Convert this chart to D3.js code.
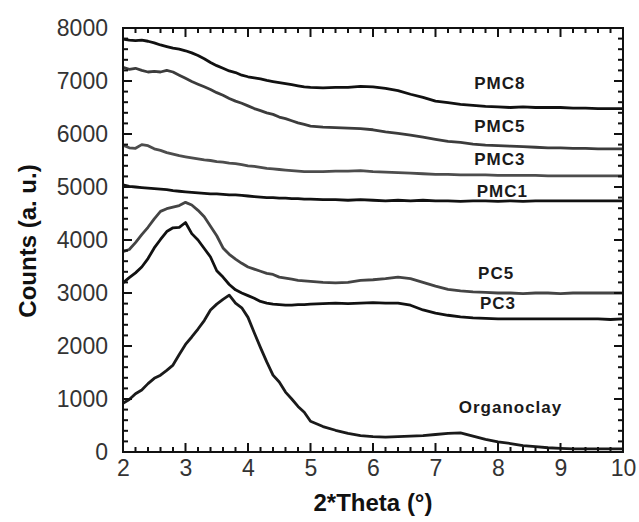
<!DOCTYPE html>
<html>
<head>
<meta charset="utf-8">
<script src="https://cdn.jsdelivr.net/npm/d3@7"></script>
<style>
  body { margin: 0; background: #fff; }
  svg { display: block; font-family: "Liberation Sans", Arial, sans-serif; }
</style>
</head>
<body>
<div id="chart"></div>
<script>
// 2-theta sampling (fine steps where the peaks are)
var theta = [2.0, 2.1, 2.2, 2.3, 2.4, 2.5, 2.6, 2.7, 2.8, 2.9, 3.0, 3.1, 3.2, 3.3, 3.4, 3.5, 3.6, 3.7, 3.8, 3.9,
             4.0, 4.1, 4.2, 4.3, 4.4, 4.5, 4.6, 4.7, 4.8, 4.9, 5.0,
             5.2, 5.4, 5.6, 5.8, 6.0, 6.2, 6.4, 6.6, 6.8, 7.0, 7.2, 7.4, 7.6, 7.8, 8.0,
             8.2, 8.4, 8.6, 8.8, 9.0, 9.2, 9.4, 9.6, 9.8, 10.0];

var pmc8 = [7790, 7770, 7760, 7770, 7750, 7720, 7680, 7650, 7620, 7600, 7570, 7530, 7480, 7420, 7350, 7290, 7240, 7190, 7160, 7110,
            7080, 7060, 7040, 7010, 6990, 6970, 6950, 6930, 6910, 6890, 6880,
            6870, 6880, 6880, 6900, 6890, 6860, 6820, 6750, 6690, 6620, 6590, 6560, 6540, 6520, 6510,
            6500, 6510, 6500, 6500, 6500, 6490, 6490, 6480, 6480, 6480];
var pmc5 = [7260, 7220, 7240, 7200, 7170, 7180, 7170, 7200, 7170, 7110, 7050, 6990, 6940, 6890, 6840, 6780, 6730, 6670, 6620, 6580,
            6530, 6480, 6440, 6400, 6370, 6320, 6290, 6250, 6210, 6180, 6150,
            6130, 6120, 6110, 6100, 6080, 6040, 6010, 5980, 5940, 5900, 5860, 5840, 5810, 5790, 5780,
            5770, 5760, 5750, 5740, 5740, 5730, 5730, 5720, 5720, 5720];
var pmc3 = [5790, 5740, 5730, 5800, 5780, 5720, 5690, 5650, 5620, 5590, 5570, 5550, 5530, 5510, 5500, 5480, 5470, 5450, 5440, 5420,
            5400, 5390, 5370, 5350, 5340, 5330, 5320, 5310, 5300, 5290, 5290,
            5290, 5300, 5300, 5310, 5290, 5280, 5270, 5260, 5250, 5240, 5240, 5230, 5230, 5230, 5220,
            5220, 5220, 5220, 5210, 5210, 5210, 5210, 5210, 5210, 5210];
var pmc1 = [5040, 5010, 5000, 4990, 4980, 4970, 4960, 4950, 4930, 4920, 4910, 4900, 4890, 4880, 4870, 4870, 4860, 4850, 4850, 4840,
            4830, 4820, 4810, 4800, 4800, 4790, 4790, 4780, 4780, 4770, 4770,
            4760, 4760, 4750, 4760, 4750, 4740, 4750, 4740, 4750, 4740, 4740, 4730, 4740, 4740, 4730,
            4740, 4730, 4740, 4740, 4740, 4740, 4740, 4740, 4740, 4740];
var pc5 = [3780, 3820, 3950, 4100, 4240, 4400, 4540, 4590, 4620, 4650, 4710, 4660, 4560, 4440, 4260, 4080, 3850, 3730, 3640, 3560,
           3490, 3450, 3410, 3370, 3350, 3300, 3280, 3260, 3240, 3230, 3220,
           3200, 3190, 3200, 3240, 3250, 3270, 3300, 3270, 3200, 3130, 3070, 3040, 3020, 3010, 3000,
           3000, 2990, 3000, 3000, 2990, 3000, 3000, 3000, 3000, 3000];
var pc3 = [3190, 3290, 3380, 3490, 3650, 3850, 4010, 4160, 4230, 4240, 4330, 4120, 4000, 3840, 3680, 3420, 3300, 3160, 3060, 3000,
           2950, 2900, 2840, 2810, 2790, 2780, 2770, 2770, 2780, 2780, 2790,
           2800, 2810, 2800, 2810, 2820, 2810, 2810, 2770, 2680, 2620, 2580, 2550, 2530, 2520, 2510,
           2510, 2510, 2510, 2510, 2510, 2510, 2510, 2510, 2500, 2510];
var organoclay = [920, 990, 1100, 1170, 1290, 1390, 1450, 1540, 1640, 1840, 2030, 2170, 2320, 2480, 2680, 2790, 2880, 2960, 2810, 2720,
                  2540, 2250, 1970, 1700, 1450, 1320, 1130, 1000, 860, 750, 580,
                  480, 410, 350, 310, 290, 280, 290, 300, 310, 330, 350, 360, 300, 240, 190,
                  160, 120, 100, 80, 70, 60, 60, 60, 60, 60];

var seriesNames = ["PMC8", "PMC5", "PMC3", "PMC1", "PC5", "PC3", "Organoclay"];
var seriesValues = [pmc8, pmc5, pmc3, pmc1, pc5, pc3, organoclay];
var xTicks = [2, 3, 4, 5, 6, 7, 8, 9, 10];
var yTicks = [0, 1000, 2000, 3000, 4000, 5000, 6000, 7000, 8000];

// look
var lineColors = ["#111", "#3c3c3c", "#4d4d4d", "#111", "#444", "#111", "#1a1a1a"];
// where each label sits, in data units (centre x, baseline y)
var labelAt = [[8.03, 6850], [8.03, 6040], [8.03, 5415], [8.07, 4810], [7.97, 3265], [8.0, 2700], [8.2, 735]];

var w = 639, h = 522;
var m = {top: 28, right: 16, bottom: 70, left: 123};
var bottom = h - m.bottom, right = w - m.right;

var svg = d3.select("#chart").append("svg")
    .attr("width", w)
    .attr("height", h);

var x = d3.scaleLinear().domain([2, 10]).range([m.left, right]);
var y = d3.scaleLinear().domain([0, 8000]).range([bottom, m.top]);

var line = d3.line()
    .x(function(d) { return x(d[0]); })
    .y(function(d) { return y(d[1]); });

// curves
svg.selectAll(".curve")
    .data(seriesValues)
    .enter()
    .append("path")
    .attr("class", "curve")
    .attr("fill", "none")
    .attr("stroke", function(d, i) { return lineColors[i]; })
    .attr("stroke-width", 2.8)
    .attr("stroke-linejoin", "round")
    .attr("d", function(vals) {
        return line(vals.map(function(v, i) { return [theta[i], v]; }));
    });

// tick marks, pointing inward on all four sides
var minorX = d3.range(2, 10.001, 0.2).filter(function(v) { return Math.abs(v - Math.round(v)) > 0.01; });
var minorY = d3.range(0, 8001, 200).filter(function(v) { return v % 1000 !== 0; });
var xt = xTicks.map(function(v) { return {v: v, len: 9}; })
    .concat(minorX.map(function(v) { return {v: v, len: 5}; }));
var yt = yTicks.map(function(v) { return {v: v, len: 9}; })
    .concat(minorY.map(function(v) { return {v: v, len: 5}; }));

var ticks = svg.append("g").attr("stroke", "#111").attr("stroke-width", 2);
[bottom, m.top].forEach(function(edge) {
    var dir = edge === bottom ? -1 : 1;
    ticks.selectAll(null).data(xt).enter().append("line")
        .attr("x1", function(d) { return x(d.v); })
        .attr("x2", function(d) { return x(d.v); })
        .attr("y1", edge)
        .attr("y2", function(d) { return edge + dir * d.len; });
});
[m.left, right].forEach(function(edge) {
    var dir = edge === m.left ? 1 : -1;
    ticks.selectAll(null).data(yt).enter().append("line")
        .attr("y1", function(d) { return y(d.v); })
        .attr("y2", function(d) { return y(d.v); })
        .attr("x1", edge)
        .attr("x2", function(d) { return edge + dir * d.len; });
});

// tick labels through the axis generators (no lines of their own)
var gx = svg.append("g")
    .attr("transform", "translate(0," + bottom + ")")
    .call(d3.axisBottom(x).tickValues(xTicks).tickSize(0).tickPadding(8).tickFormat(d3.format("d")));
var gy = svg.append("g")
    .attr("transform", "translate(" + m.left + ",0)")
    .call(d3.axisLeft(y).tickValues(yTicks).tickSize(0).tickPadding(15).tickFormat(d3.format("d")));
[gx, gy].forEach(function(g) {
    g.select(".domain").remove();
    g.selectAll(".tick text")
        .attr("font-size", 23)
        .attr("fill", "#333")
        .attr("font-family", "Liberation Sans, Arial, sans-serif");
});

svg.append("rect")
    .attr("x", m.left).attr("y", m.top)
    .attr("width", right - m.left).attr("height", bottom - m.top)
    .attr("fill", "none")
    .attr("stroke", "#111")
    .attr("stroke-width", 2);

// series labels
svg.selectAll(".lbl")
    .data(seriesNames)
    .enter()
    .append("text")
    .attr("class", "lbl")
    .attr("x", function(d, i) { return x(labelAt[i][0]); })
    .attr("y", function(d, i) { return y(labelAt[i][1]); })
    .attr("text-anchor", "middle")
    .attr("font-weight", "bold")
    .attr("font-size", 17)
    .attr("letter-spacing", 1)
    .attr("fill", "#1a1a1a")
    .text(function(d) { return d; });

// axis titles
svg.append("text")
    .attr("x", x(6))
    .attr("y", 511)
    .attr("text-anchor", "middle")
    .attr("font-weight", "bold")
    .attr("font-size", 24)
    .attr("fill", "#111")
    .text("2*Theta (°)");

svg.append("text")
    .attr("transform", "translate(36,241) rotate(-90)")
    .attr("text-anchor", "middle")
    .attr("font-weight", "bold")
    .attr("font-size", 24)
    .attr("fill", "#111")
    .text("Counts (a. u.)");
</script>
</body>
</html>
